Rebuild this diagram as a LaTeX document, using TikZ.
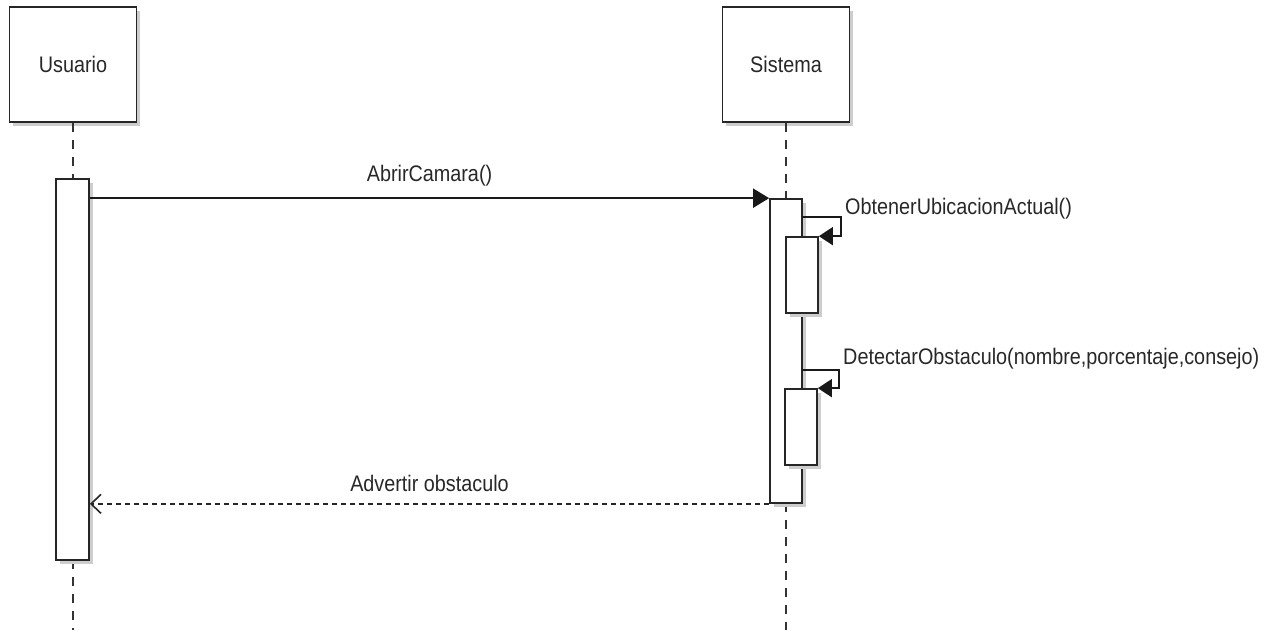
\documentclass[tikz,border=0pt]{standalone}
\usepackage{fontspec}
\newfontfamily\lblfont{Liberation Sans}[FakeStretch=0.88]
\usetikzlibrary{arrows.meta,shadows}
\definecolor{txt}{RGB}{40,40,40}
\definecolor{shd}{RGB}{205,205,205}
\tikzset{
  shad/.style={drop shadow={shadow xshift=3.5pt,shadow yshift=-3.5pt,fill=shd,opacity=1}},
  actorbox/.style={draw=black!85,line width=1.7pt,fill=white,shad,inner sep=0pt,
    minimum width=127pt,minimum height=115pt,font=\lblfont\fontsize{22.5}{26}\selectfont,text=txt},
  actbox/.style={draw=black!85,line width=1.7pt,fill=white,shad,inner sep=0pt,minimum width=32pt},
  life/.style={draw=black!80,line width=1.5pt,dash pattern=on 9pt off 8pt},
  msg/.style={draw=black!90,line width=1.7pt,-{Triangle[length=16pt,width=19pt]}},
  selfmsg/.style={draw=black!90,line width=1.7pt,-{Triangle[length=14pt,width=18pt]}},
  ret/.style={draw=black!85,line width=1.5pt,dash pattern=on 5.5pt off 3.5pt,-{Straight Barb[length=10pt,width=19pt,line width=1.6pt]}},
  lbl/.style={font=\lblfont\fontsize{22.5}{26}\selectfont,text=txt,inner sep=0pt}
}
\begin{document}
\begin{tikzpicture}[x=1pt,y=-1pt]
\useasboundingbox[fill=white] (0,0) rectangle (1276,630);
% actors
\node[actorbox] (usr) at (73,64.5) {Usuario};
\node[actorbox] (sys) at (786,64.5) {Sistema};
% lifeline ends
\coordinate (uend) at (73,630);
\coordinate (send) at (786,630);
\coordinate (a1top) at (73,179);
\coordinate (a1bot) at (73,560);
\coordinate (a2top) at (786,199);
\coordinate (a2bot) at (786,503);
\draw[life] (usr.south) -- (a1top);
\draw[life] (a1bot) -- (uend);
\draw[life] (sys.south) -- (a2top);
\draw[life] (a2bot) -- (send);
% activations
\node[actbox,minimum width=33pt,minimum height=381pt] (a1) at (72.5,369.5) {};
\node[actbox,minimum height=304pt] (a2) at (786,351) {};
\node[actbox,minimum height=76pt] (a3) at (802,275) {};
\node[actbox,minimum height=76pt] (a4) at (801,427) {};
% messages
\draw[msg] (a1.east |- a2.north) -- node[lbl,above=11pt] {AbrirCamara()} (a2.north west);
\coordinate (s1) at (802,217);
\draw[selfmsg] (s1) -- ++(39,0) |- (a3.north east);
\node[lbl,anchor=west] (l1) at (845,209) {ObtenerUbicacionActual()};
\coordinate (s2) at (802,370);
\draw[selfmsg] (s2) -- ++(37,0) |- (a4.north east);
\node[lbl,anchor=west] (l2) at (843,359) {DetectarObstaculo(nombre,porcentaje,consejo)};
\draw[ret] (a2.south west) -- node[lbl,above=11pt] {Advertir obstaculo} (a1.east |- a2.south);
\end{tikzpicture}
\end{document}
